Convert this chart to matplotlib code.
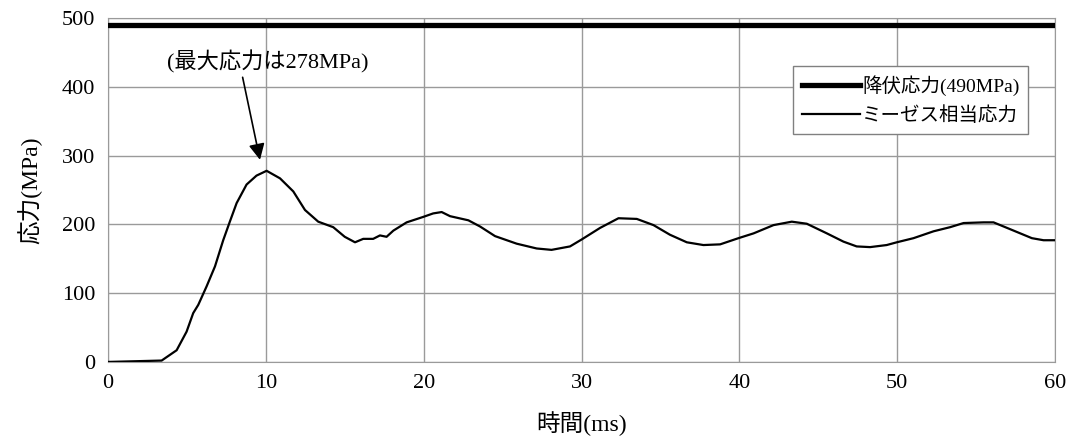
import matplotlib
matplotlib.use("Agg")
import matplotlib.pyplot as plt

plt.rcParams['font.family'] = ['Liberation Serif', 'Noto Sans CJK JP', 'DejaVu Sans']

# 時間(ms) と ミーゼス相当応力(MPa)
t_ms = [0, 3.4, 4.35, 4.98, 5.4, 5.72, 6.25, 6.78, 7.3, 7.72, 8.15, 8.78, 9.41,
        10.05, 10.9, 11.74, 12.48, 13.32, 14.27, 15.0, 15.65, 16.17, 16.8, 17.23,
        17.65, 18.08, 18.92, 19.98, 20.6, 21.14, 21.67, 22.83, 23.57, 24.52,
        25.89, 27.16, 28.1, 29.27, 30.0, 31.18, 32.34, 33.5, 34.56, 35.6, 36.67,
        37.72, 38.78, 39.94, 40.9, 42.16, 43.32, 44.27, 45.54, 46.59, 47.43,
        48.28, 49.33, 49.97, 51.03, 52.3, 53.35, 54.2, 55.47, 56.1, 57.16,
        58.53, 59.27, 60]
mises = [0, 2, 17, 44, 71, 83, 110, 139, 177, 204, 231, 258, 271,
         278, 267, 248, 221, 204, 196, 182, 174, 179, 179, 184,
         182, 191, 203, 211, 216, 218, 212, 206, 197, 183,
         172, 165, 163, 168, 178, 195, 209, 208, 199, 185, 174,
         170, 171, 180, 187, 199, 204, 201, 187, 175, 168,
         167, 170, 174, 180, 190, 196, 202, 203, 203, 193,
         180, 177, 177]
yield_stress = 490
max_stress = 278

fig = plt.figure(figsize=(10.69, 4.43), dpi=100)
ax = fig.add_axes([0.101, 0.183, 0.886, 0.776])

ax.plot([0, 60], [yield_stress, yield_stress], color='black', lw=3.8,
        label='降伏応力(490MPa)', zorder=3)
ax.plot(t_ms, mises, color='black', lw=1.6, label='ミーゼス相当応力', zorder=3)

ax.set_xlim(0, 60)
ax.set_ylim(0, 500)
ax.set_xticks(range(0, 61, 10))
ax.set_yticks(range(0, 501, 100))
ax.grid(True, color='#9a9a9a', lw=1.0)
ax.tick_params(length=0, labelsize=16, pad=9)
for s in ax.spines.values():
    s.set_color('#9a9a9a')

ax.set_xlabel('時間(ms)', fontsize=17, labelpad=13)
ax.set_ylabel('応力(MPa)', fontsize=17, labelpad=14)

# 最大応力の注記と矢印
ax.text(10.1, 436, f'(最大応力は{max_stress}MPa)', ha='center', va='center',
        fontsize=16)
ax.annotate('', xy=(9.63, 294), xytext=(8.53, 414),
            arrowprops=dict(arrowstyle='-|>', color='black', lw=1.2,
                            mutation_scale=24, shrinkA=0, shrinkB=0))

leg = ax.legend(loc='upper right', bbox_to_anchor=(0.9715, 0.86), borderaxespad=0,
                fontsize=14, fancybox=False, framealpha=1, edgecolor='#808080',
                handlelength=3.0, handletextpad=0.1, labelspacing=0.55,
                borderpad=0.45)
leg.get_frame().set_linewidth(1.0)

fig.savefig('out.png', dpi=100)
